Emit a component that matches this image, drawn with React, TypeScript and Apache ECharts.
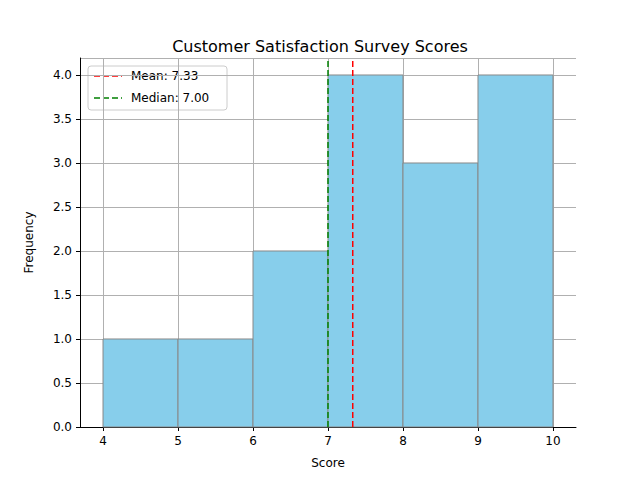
import React, { useEffect, useRef } from "react";
import * as echarts from "echarts";

const binStarts = [4, 5, 6, 7, 8, 9];
const binEnds = [5, 6, 7, 8, 9, 10];
const counts = [1, 1, 2, 4, 3, 4];
const meanVal = 7.33;
const medianVal = 7.0;
const xTicks = [4, 5, 6, 7, 8, 9, 10];

export default function App() {
  const ref = useRef<HTMLDivElement>(null);
  useEffect(() => {
    const chart = echarts.init(ref.current!, null, { renderer: "svg" });
    const font = "DejaVu Sans";
    const grid = "#b0b0b0";
    chart.setOption({
      animation: false,
      textStyle: { fontFamily: font },
      title: { text: "Customer Satisfaction Survey Scores", left: "center", top: 33, textStyle: { fontFamily: font, fontSize: 16, fontWeight: "normal", color: "#000" } },
      grid: { left: 80, right: 64, top: 58, bottom: 53 },
      xAxis: {
        type: "value", min: 3.693, max: 10.307,
        name: "Score", nameLocation: "middle", nameGap: 30, nameTextStyle: { color: "#000", fontSize: 12 },
        axisLine: { onZero: false, lineStyle: { color: "#000" } },
        axisTick: { show: true, customValues: xTicks, length: 4, lineStyle: { color: "#000" } },
        axisLabel: { customValues: xTicks, color: "#000", fontSize: 12 },
        splitLine: { show: true, customValues: xTicks, lineStyle: { color: grid } },
      },
      yAxis: {
        type: "value", min: 0, max: 4.193, interval: 0.5,
        name: "Frequency", nameLocation: "middle", nameGap: 45, nameTextStyle: { color: "#000", fontSize: 12 },
        axisLine: { show: true, lineStyle: { color: "#000" } },
        axisTick: { show: true, length: 4, lineStyle: { color: "#000" } },
        axisLabel: { color: "#000", fontSize: 12, formatter: (v: number) => v.toFixed(1), showMaxLabel: false },
        splitLine: { show: true, lineStyle: { color: grid } },
      },
      series: [
        {
          type: "custom",
          data: counts.map((c, i) => [binStarts[i], binEnds[i], c]),
          renderItem: (params: any, api: any) => {
            const p0 = api.coord([api.value(0), 0]);
            const p1 = api.coord([api.value(1), api.value(2)]);
            return {
              type: "rect",
              shape: { x: p0[0], y: p1[1], width: p1[0] - p0[0], height: p0[1] - p1[1] },
              style: { fill: "#87CEEB", stroke: "#888888", lineWidth: 1 },
            };
          },
        },
        { type: "line", data: [[meanVal, 0], [meanVal, 4.193]], symbol: "none", lineStyle: { color: "#ff0000", type: [6, 3], width: 1.5 } },
        { type: "line", data: [[medianVal, 0], [medianVal, 4.193]], symbol: "none", lineStyle: { color: "#008000", type: [6, 3], width: 1.5 } },
      ],
      graphic: [
        { type: "rect", shape: { x: 88, y: 66, width: 139, height: 44, r: 3 }, style: { fill: "rgba(255,255,255,0.8)", stroke: "#cccccc", lineWidth: 1 } },
        { type: "line", shape: { x1: 94, y1: 76, x2: 122, y2: 76 }, style: { stroke: "#ff0000", lineWidth: 1.5, lineDash: [6, 3] } },
        { type: "text", x: 131, y: 76, style: { text: "Mean: 7.33", fontFamily: font, fontSize: 12, fill: "#000", verticalAlign: "middle" } },
        { type: "line", shape: { x1: 94, y1: 98, x2: 122, y2: 98 }, style: { stroke: "#008000", lineWidth: 1.5, lineDash: [6, 3] } },
        { type: "text", x: 131, y: 98, style: { text: "Median: 7.00", fontFamily: font, fontSize: 12, fill: "#000", verticalAlign: "middle" } },
      ],
    });
    return () => chart.dispose();
  }, []);
  return <div ref={ref} style={{ width: 640, height: 480, position: "absolute", left: 0, top: 0 }} />;
}
